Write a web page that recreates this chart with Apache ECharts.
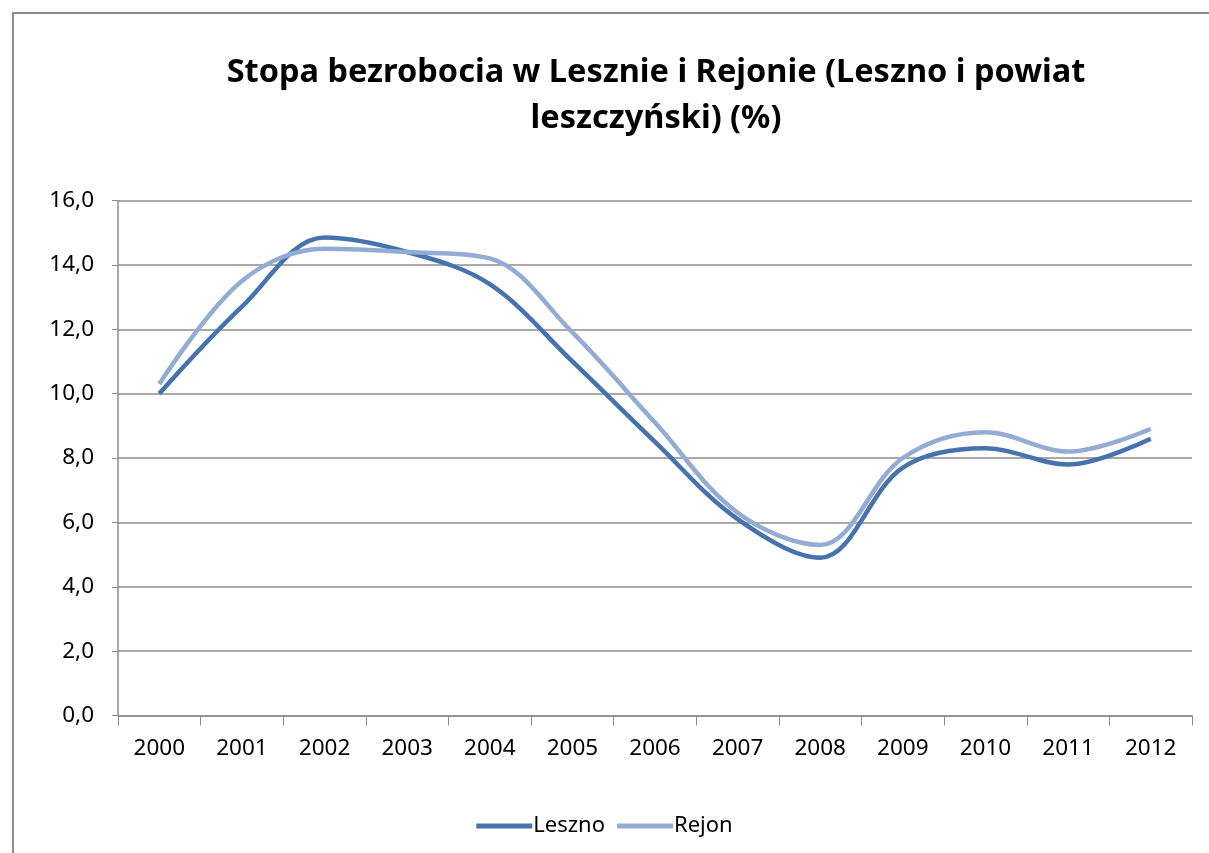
<!DOCTYPE html>
<html>
<head>
<meta charset="utf-8">
<script src="https://cdn.jsdelivr.net/npm/echarts@6/dist/echarts.min.js"></script>
<style>
  html, body { margin: 0; padding: 0; background: #fff; }
  #chart { width: 1209px; height: 853px; }
</style>
</head>
<body>
<div id="chart"></div>
<script>
// dane
const years = ["2000", "2001", "2002", "2003", "2004", "2005", "2006", "2007", "2008", "2009", "2010", "2011", "2012"];
const leszno = [10.0, 12.7, 14.85, 14.4, 13.4, 11.0, 8.5, 6.1, 4.9, 7.7, 8.3, 7.8, 8.6];
const rejon = [10.3, 13.5, 14.5, 14.4, 14.2, 11.9, 9.1, 6.3, 5.3, 8.0, 8.8, 8.2, 8.9];
const yTicks = [0, 2, 4, 6, 8, 10, 12, 14, 16];

const font = "'Noto Sans', sans-serif";

const chart = echarts.init(document.getElementById("chart"));
chart.setOption({
  animation: false,
  textStyle: { fontFamily: font },
  title: {
    text: "Stopa bezrobocia w Lesznie i Rejonie (Leszno i powiat\nleszczyński) (%)",
    left: 651,
    top: 45,
    textAlign: "center",
    textStyle: {
      fontFamily: font,
      fontSize: 32.5,
      fontWeight: "bold",
      color: "#000",
      lineHeight: 46
    }
  },
  graphic: [{
    type: "rect",
    shape: { x: 13, y: 13, width: 1300, height: 1000 },
    style: { fill: "none", stroke: "#8c8c8c", lineWidth: 2 }
  }],
  legend: {
    bottom: 11,
    left: "center",
    itemWidth: 56,
    itemHeight: 5,
    itemGap: 12,
    icon: "rect",
    textStyle: { fontSize: 22, color: "#000", padding: [0, 0, 0, -4] },
    data: ["Leszno", "Rejon"]
  },
  grid: { left: 118, right: 17, top: 200.5, bottom: 137.5, containLabel: false },
  xAxis: {
    type: "category",
    data: years,
    boundaryGap: true,
    axisLine: { lineStyle: { color: "#8c8c8c", width: 1.5 } },
    axisTick: { show: true, length: 10, alignWithLabel: false, lineStyle: { color: "#8c8c8c" } },
    axisLabel: { fontSize: 22.5, color: "#000", margin: 22 }
  },
  yAxis: {
    type: "value",
    min: yTicks[0],
    max: yTicks[yTicks.length - 1],
    interval: 2,
    axisLine: { show: true, lineStyle: { color: "#8c8c8c", width: 1.5 } },
    axisTick: { show: true, length: 6, inside: false, lineStyle: { color: "#8c8c8c" } },
    splitLine: { lineStyle: { color: "#8c8c8c", width: 1.5 } },
    axisLabel: {
      fontSize: 22.5,
      color: "#000",
      margin: 24,
      formatter: v => v.toFixed(1).replace(".", ",")
    }
  },
  series: [
    {
      name: "Leszno",
      type: "line",
      data: leszno,
      smooth: 0.35,
      symbol: "none",
      color: "#4673ad",
      lineStyle: { width: 4.5, color: "#4673ad" }
    },
    {
      name: "Rejon",
      type: "line",
      data: rejon,
      smooth: 0.35,
      symbol: "none",
      color: "#93acd4",
      lineStyle: { width: 4.5, color: "#93acd4" }
    }
  ]
});
</script>
</body>
</html>
